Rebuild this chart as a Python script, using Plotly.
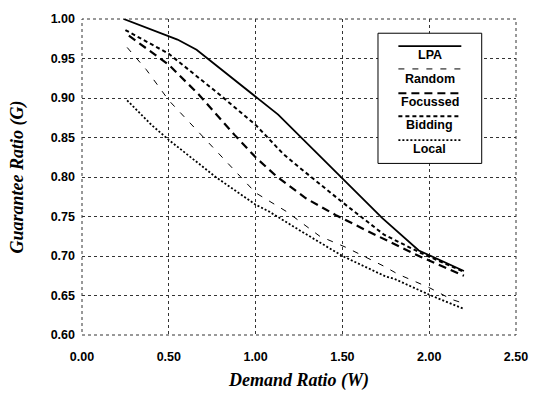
import plotly.graph_objects as go

# ---- data ----
lpa_w = [0.24, 0.55, 0.66, 1.13, 1.73, 1.94, 2.20]
lpa_g = [1.000, 0.974, 0.961, 0.879, 0.748, 0.707, 0.681]

random_w = [0.26, 0.37, 0.50, 0.67, 0.89, 1.00, 1.18, 1.37, 1.52, 1.74, 1.82, 2.00, 2.13, 2.20]
random_g = [0.964, 0.936, 0.897, 0.857, 0.805, 0.780, 0.756, 0.725, 0.711, 0.687, 0.677, 0.660, 0.645, 0.640]

focussed_w = [0.27, 0.50, 0.67, 0.88, 1.00, 1.12, 1.29, 1.46, 1.65, 1.84, 1.95, 2.20]
focussed_g = [0.979, 0.942, 0.905, 0.853, 0.825, 0.801, 0.773, 0.752, 0.731, 0.711, 0.699, 0.675]

bidding_w = [0.25, 0.50, 0.80, 1.00, 1.16, 1.23, 1.50, 1.74, 1.95, 2.20]
bidding_g = [0.986, 0.956, 0.903, 0.866, 0.829, 0.816, 0.768, 0.727, 0.704, 0.680]

local_w = [0.26, 0.40, 0.50, 0.77, 1.00, 1.08, 1.25, 1.50, 1.75, 1.80, 2.00, 2.20]
local_g = [0.897, 0.866, 0.847, 0.800, 0.765, 0.756, 0.733, 0.700, 0.674, 0.671, 0.651, 0.633]

series_names = ["LPA", "Random", "Focussed", "Bidding", "Local"]

styles = {
    "LPA": dict(color="black", width=1.8, dash="solid"),
    "Random": dict(color="black", width=1, dash="6px,8px"),
    "Focussed": dict(color="black", width=2.2, dash="8px,5px"),
    "Bidding": dict(color="black", width=2, dash="4px,3px"),
    "Local": dict(color="black", width=1.8, dash="2px,2px"),
}

data = {
    "LPA": (lpa_w, lpa_g),
    "Random": (random_w, random_g),
    "Focussed": (focussed_w, focussed_g),
    "Bidding": (bidding_w, bidding_g),
    "Local": (local_w, local_g),
}

fig = go.Figure()
for name in series_names:
    w, g = data[name]
    fig.add_trace(go.Scatter(x=w, y=g, mode="lines", name=name,
                             line=styles[name], showlegend=False))

tickfont = dict(family="Liberation Sans, Arial, sans-serif", size=12.5,
                color="black", weight="bold")
titlefont = dict(family="Liberation Serif, Times New Roman, serif", size=18,
                 color="black", weight="bold", style="italic")

grid = dict(showgrid=True, gridcolor="#333333", griddash="dot", gridwidth=1,
            showline=False, zeroline=False, ticks="", tickfont=tickfont)

fig.update_xaxes(range=[0, 2.5], dtick=0.5, tick0=0, tickformat=".2f",
                 title=dict(text="Demand Ratio (W)", font=titlefont, standoff=10),
                 ticklabelstandoff=12, **grid)
fig.update_yaxes(range=[0.6, 1.0], dtick=0.05, tick0=0.6, tickformat=".2f",
                 title=dict(text="Guarantee Ratio (G)", font=titlefont, standoff=22),
                 ticklabelstandoff=6, **grid)

# ---- dotted frame at the range edges ----
shapes = [dict(type="rect", xref="paper", yref="paper", x0=0, x1=1, y0=0, y1=1,
               line=dict(color="#333333", width=1, dash="dot"), layer="below")]

# ---- custom legend (line sample above centered label) ----
shapes.append(dict(type="rect", xref="paper", yref="paper", x0=0.682, x1=0.921,
                   y0=0.543, y1=0.955, fillcolor="white",
                   line=dict(color="black", width=1), layer="above"))
annotations = []
line_ys = [0.914, 0.842, 0.765, 0.692, 0.617]
label_ys = [0.886, 0.811, 0.737, 0.664, 0.588]
legfont = dict(family="Liberation Sans, Arial, sans-serif", size=12.5,
               color="black", weight="bold")
for name, ly, ty in zip(series_names, line_ys, label_ys):
    st = styles[name]
    shapes.append(dict(type="line", xref="paper", yref="paper", x0=0.729, x1=0.874,
                       y0=ly, y1=ly, layer="above",
                       line=dict(color="black", width=st["width"], dash=st["dash"])))
    annotations.append(dict(xref="paper", yref="paper", x=0.8015, y=ty, text=name,
                            showarrow=False, font=legfont, xanchor="center",
                            yanchor="middle"))

fig.update_layout(width=540, height=398,
                  margin=dict(l=82, r=16, t=12, b=56),
                  paper_bgcolor="white", plot_bgcolor="white",
                  shapes=shapes, annotations=annotations)

fig.write_html("out.html")
